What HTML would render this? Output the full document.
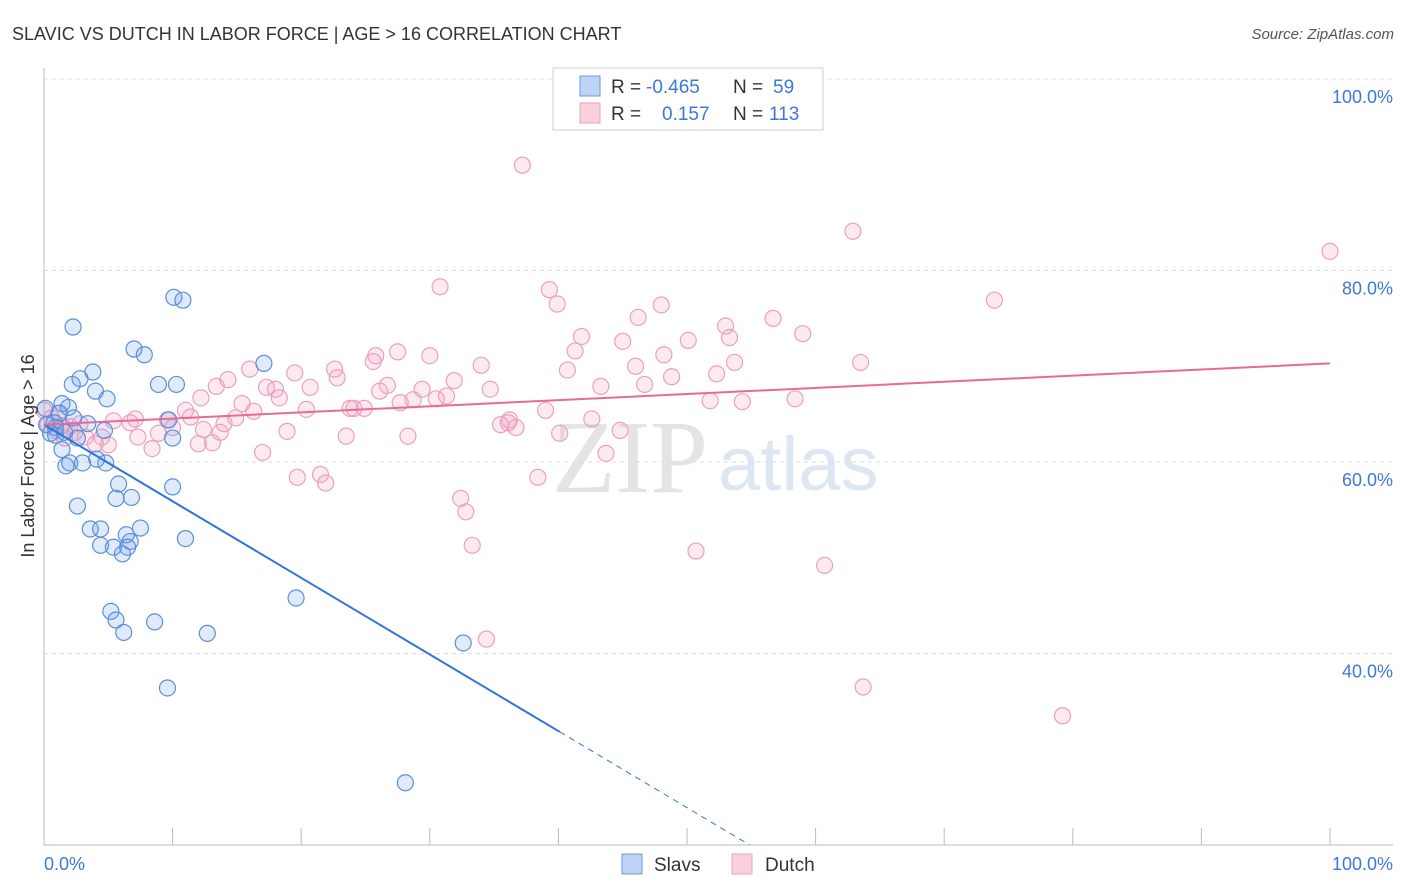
<!DOCTYPE html>
<html><head><meta charset="utf-8"><style>
body{margin:0;background:#fff;font-family:"Liberation Sans",sans-serif;}
svg{display:block}
</style></head><body>
<svg id="chart" width="1406" height="892" xmlns="http://www.w3.org/2000/svg">
<text x="12" y="40" font-size="18" fill="#333">SLAVIC VS DUTCH IN LABOR FORCE | AGE &gt; 16 CORRELATION CHART</text>
<text x="1394" y="39" font-size="15" font-style="italic" fill="#555" text-anchor="end">Source: ZipAtlas.com</text>
<g>
<text x="552" y="492" font-size="104" font-family="Liberation Serif,serif" fill="#e4e4e4">ZIP</text>
<text x="718" y="490" font-size="76" fill="#dde6f3">atlas</text>
</g>
<g id="grid"></g>
<g id="axes"></g>
<g id="marks"></g>
<g>
<rect x="553" y="68" width="270" height="62" fill="#fff" stroke="#ccc"/>
<rect x="580" y="76" width="20" height="20" fill="#bcd4f5" stroke="#6b9ae0"/>
<rect x="580" y="103" width="20" height="20" fill="#fbcfdc" stroke="#eba0bb"/>
<text x="611" y="93" font-size="19" fill="#333">R = </text><text x="646" y="93" font-size="19" fill="#3c78d8">-0.465</text>
<text x="733" y="93" font-size="19" fill="#333">N = </text><text x="773" y="93" font-size="19" fill="#3c78d8">59</text>
<text x="611" y="120" font-size="19" fill="#333">R = </text><text x="662" y="120" font-size="19" fill="#3c78d8">0.157</text>
<text x="733" y="120" font-size="19" fill="#333">N = </text><text x="769" y="120" font-size="19" fill="#3c78d8">113</text>
</g>
<g>
<rect x="622" y="854" width="20" height="20" fill="#bcd4f5" stroke="#6b9ae0"/>
<text x="654" y="871" font-size="19" fill="#333">Slavs</text>
<rect x="732" y="854" width="20" height="20" fill="#fbcfdc" stroke="#eba0bb"/>
<text x="765" y="871" font-size="19" fill="#333">Dutch</text>
</g>
<text transform="translate(34,456) rotate(-90)" font-size="18" fill="#333" text-anchor="middle">In Labor Force | Age &gt; 16</text>
</svg>
<script>
const yTicks=[40,60,80,100];
const yTickLabels=["40.0%","60.0%","80.0%","100.0%"];
const xTicks=[0,10,20,30,40,50,60,70,80,90,100];
const slavX=[2.26,10.1,10.8,7.0,7.8,17.1,3.8,2.2,2.8,8.9,10.3,4.0,4.9,1.4,1.9,1.2,2.3,3.4,4.7,0.8,0.5,0.9,2.6,9.7,10.0,1.4,4.1,1.7,2.0,3.0,4.8,5.8,5.6,6.8,10.0,2.6,3.6,4.4,7.5,6.4,6.7,4.4,5.4,6.5,6.1,11.0,19.6,5.2,5.6,6.2,8.6,12.7,32.6,9.6,28.1,0.2,0.9,1.6,0.1];
const slavY=[74.1,77.2,76.9,71.8,71.2,70.3,69.4,68.1,68.7,68.1,68.1,67.4,66.6,66.1,65.7,65.1,64.6,64.0,63.3,64.1,63.0,63.6,62.5,64.4,62.5,61.3,60.3,59.6,59.9,59.9,59.9,57.7,56.2,56.3,57.4,55.4,53.0,53.0,53.1,52.4,51.7,51.3,51.1,51.1,50.4,52.0,45.8,44.4,43.5,42.2,43.3,42.1,41.1,36.4,26.5,63.9,62.8,63.1,65.6];
const dutchX=[37.2,62.9,100,30.8,73.9,39.3,39.9,48.0,46.2,56.7,53.0,41.8,53.3,59.0,50.1,41.3,48.2,45.0,30.0,27.5,25.8,25.6,22.6,16.0,19.5,34.0,40.7,53.7,63.5,52.3,46.0,31.9,34.7,43.3,46.7,48.8,26.7,26.1,17.3,18.0,20.7,22.8,14.3,13.4,12.2,15.4,18.3,27.7,28.7,30.5,31.3,29.4,23.8,24.1,24.9,20.4,16.3,14.9,11.0,11.4,9.6,7.1,6.7,5.4,51.8,54.3,58.4,39.0,42.6,35.5,36.1,36.7,36.2,14.0,13.7,18.9,23.5,28.3,40.1,44.8,7.3,8.9,10.0,12.4,1.4,2.0,2.8,1.6,3.2,4.5,4.0,5.0,8.4,12.0,13.1,17.0,43.7,19.7,21.5,21.9,38.4,32.4,32.8,33.3,50.7,60.7,34.4,63.7,79.2,0,0.6,1.1,0.3,0.9,2.4];
const dutchY=[91.0,84.1,82.0,78.3,76.9,78.0,76.5,76.4,75.1,75.0,74.2,73.1,73.0,73.4,72.7,71.6,71.2,72.6,71.1,71.5,71.1,70.5,69.7,69.7,69.3,70.1,69.6,70.4,70.4,69.2,70.0,68.5,67.6,67.9,68.1,68.9,68.0,67.4,67.8,67.6,67.8,68.8,68.6,67.9,66.7,66.1,66.7,66.2,66.5,66.6,66.9,67.6,65.6,65.6,65.6,65.5,65.3,64.6,65.4,64.7,64.4,64.5,64.1,64.3,66.4,66.3,66.6,65.4,64.5,63.9,64.1,63.6,64.4,64.0,63.1,63.2,62.7,62.7,63.0,63.3,62.6,63.0,63.6,63.4,63.8,63.7,64.0,62.5,62.6,62.6,61.9,61.8,61.4,61.9,62.0,61.0,60.9,58.4,58.7,57.8,58.4,56.2,54.8,51.3,50.7,49.2,41.5,36.5,33.5,65.4,64.6,65.1,63.9,63.3,63.1];
const slavTrend=[63.9,-0.8];
const dutchTrend=[63.9,0.064];
const NS="http://www.w3.org/2000/svg";
const X=v=>44+v*12.86, Y=v=>79+(100-v)*9.575;
function mk(t,a,p){const e=document.createElementNS(NS,t);for(const k in a)e.setAttribute(k,a[k]);p.appendChild(e);return e;}
const grid=document.getElementById('grid'),axes=document.getElementById('axes'),marks=document.getElementById('marks');
yTicks.forEach((v,i)=>{
 const l=mk('line',{x1:44,x2:1393,y1:Y(v),y2:Y(v),stroke:'#ddd','stroke-dasharray':'4,4'},grid);
 
 
 const t=mk('text',{x:1393,y:Y(v)+24,'font-size':18,fill:'#3c78d8','text-anchor':'end'},axes);
 t.textContent=yTickLabels[i];
 
 
});
mk('line',{x1:44,x2:44,y1:68,y2:845,stroke:'#bbb'},axes);
mk('line',{x1:44,x2:1393,y1:845,y2:845,stroke:'#bbb'},axes);
xTicks.forEach(v=>{const l=mk('line',{x1:X(v),x2:X(v),y1:828,y2:845,stroke:'#bbb'},axes);
 
 });
let t=mk('text',{x:44,y:870,'font-size':18,fill:'#3c78d8'},axes);t.textContent='0.0%';


t=mk('text',{x:1393,y:870,'font-size':18,fill:'#3c78d8','text-anchor':'end'},axes);t.textContent='100.0%';


dutchX.forEach((x,i)=>{const c=mk('circle',{cx:X(x),cy:Y(dutchY[i]),r:8,fill:'rgba(244,160,190,0.22)',stroke:'#eba0bb','stroke-width':1.2},marks);
 
 });
slavX.forEach((x,i)=>{const c=mk('circle',{cx:X(x),cy:Y(slavY[i]),r:8,fill:'rgba(110,160,235,0.22)',stroke:'#5b8fd9','stroke-width':1.2},marks);
 
 });
const sy=x=>slavTrend[0]+slavTrend[1]*x, dy=x=>dutchTrend[0]+dutchTrend[1]*x;
let l=mk('line',{x1:X(0),y1:Y(sy(0)),x2:X(40.1),y2:Y(sy(40.1)),stroke:'#2f74d8','stroke-width':2},marks);


const xEnd=(slavTrend[0]-20)/-slavTrend[1];
l=mk('line',{x1:X(40.1),y1:Y(sy(40.1)),x2:X(xEnd),y2:Y(20),stroke:'#2f74d8','stroke-width':1,'stroke-dasharray':'6,5'},marks);


l=mk('line',{x1:X(0),y1:Y(dy(0)),x2:X(100),y2:Y(dy(100)),stroke:'#e86a95','stroke-width':2},marks);


</script>
</body></html>
